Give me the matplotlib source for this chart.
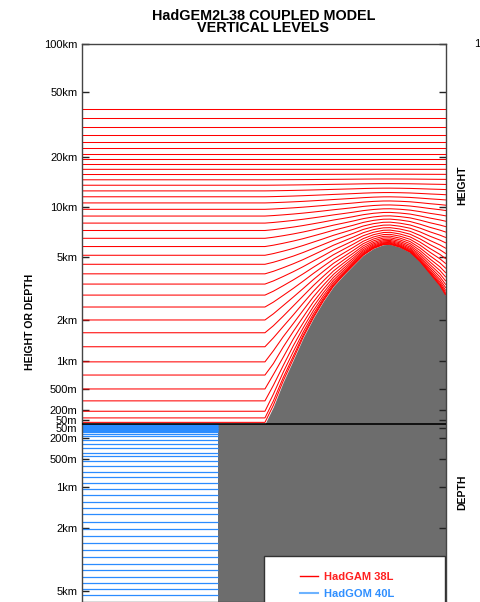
import numpy as np
import matplotlib
matplotlib.use("Agg")
import matplotlib.pyplot as plt
from matplotlib.patches import Rectangle
from matplotlib.lines import Line2D

plt.rcParams['font.family'] = ['Liberation Sans', 'DejaVu Sans']

# HadGAM 38 levels (km), flat-earth heights
ATMOS_LEVELS_KM = [0.02, 0.08, 0.18, 0.32, 0.50, 0.72, 0.98, 1.28, 1.62, 2.00,
                   2.42, 2.88, 3.38, 3.92, 4.50, 5.12, 5.78, 6.48, 7.22, 8.00,
                   8.82, 9.68, 10.58, 11.52, 12.50, 13.52, 14.58, 15.687, 16.853,
                   18.101, 19.459, 20.973, 22.71, 24.769, 27.291, 30.48, 34.622,
                   39.254]
FLAT_ABOVE_KM = 17.5   # levels are terrain following below this

# HadGOM 40 levels (km depth)
OCEAN_LEVELS_KM = [0.005, 0.015, 0.025, 0.035, 0.045, 0.055, 0.065, 0.075,
                   0.085, 0.095, 0.11, 0.135, 0.17, 0.22, 0.28, 0.34, 0.40,
                   0.46, 0.53, 0.61, 0.70, 0.80, 0.91, 1.03, 1.15, 1.29, 1.44,
                   1.60, 1.80, 2.02, 2.25, 2.50, 2.78, 3.08, 3.38, 3.72, 4.06,
                   4.45, 4.88, 5.32]

# orography (x in 0-100 across the panel)
MOUNTAIN_X = [50.4, 52.7, 55.4, 58.2, 60.9, 63.7, 66.4, 69.2, 71.9, 74.7,
              77.4, 80.2, 82.9, 84.8, 87.5, 90.3, 93.0, 95.7, 98.5, 100.0]
MOUNTAIN_KM = [0.0, 0.24, 0.60, 1.02, 1.49, 2.05, 2.62, 3.26, 3.82, 4.44,
               5.12, 5.63, 5.93, 5.96, 5.73, 5.34, 4.68, 3.94, 3.29, 2.88]
COAST_X = 37.5
DEPTH_BOTTOM_KM = 5.83
TOP_KM = 100.0

TICK_VALUES = [100, 50, 20, 10, 5, 2, 1, 0.5, 0.2, 0.05,
               -0.05, -0.2, -0.5, -1, -2, -5]
TICK_LABELS = ['100km', '50km', '20km', '10km', '5km', '2km', '1km', '500m',
               '200m', '50m', '50m', '200m', '500m', '1km', '2km', '5km']

# stretched vertical axis (linear near the surface, log aloft)
SCALE_KM = np.array([0, 0.05, 0.2, 0.5, 1, 2, 5, 10, 20, 50, 100, 1000])
SCALE_PX = np.array([0, 4, 14, 35, 63, 104, 167, 217, 267, 332, 380, 546])
SCALE_U = np.arcsinh(SCALE_KM / 0.5)


def fwd(y):
    y = np.asarray(y, dtype=float)
    return np.sign(y) * np.interp(np.arcsinh(np.abs(y) / 0.5), SCALE_U, SCALE_PX)


def inv(s):
    s = np.asarray(s, dtype=float)
    return np.sign(s) * 0.5 * np.sinh(np.interp(np.abs(s), SCALE_PX, SCALE_U))


W, H = 481, 602
GRAY = '#6d6d6d'


def px(x, y):
    return x / W, 1 - y / H


fig = plt.figure(figsize=(W / 100, H / 100), dpi=100)
ax = fig.add_axes([81.5 / W, 0, 364 / W, 1 - 44 / H])
ax.set_yscale('function', functions=(fwd, inv))
ax.set_xlim(0, 100)
ax.set_ylim(-DEPTH_BOTTOM_KM, TOP_KM)

# atmosphere
ax.fill_between(MOUNTAIN_X, 0, MOUNTAIN_KM, color=GRAY, lw=0, zorder=1)
x_line = np.concatenate([[0.0], MOUNTAIN_X])
h_line = np.concatenate([[0.0], MOUNTAIN_KM])
for z in ATMOS_LEVELS_KM:
    decay = max(0.0, 1 - z / FLAT_ABOVE_KM) ** 2
    ax.plot(x_line, z + h_line * decay, color='red', lw=0.75, zorder=2)

# ocean
ax.fill_between([COAST_X, 100], -DEPTH_BOTTOM_KM - 1, 0, color=GRAY, lw=0, zorder=1)
ax.hlines(-np.array(OCEAN_LEVELS_KM), 0, COAST_X, color='#2b8cff', lw=0.9, zorder=2)
ax.axhline(0, color='black', lw=1.2, zorder=3)

ax.set_xticks([])
ax.set_yticks(TICK_VALUES, TICK_LABELS)
ax.tick_params(axis='y', direction='in', length=5, width=1, right=True,
               labelsize=8, pad=3, labelcolor='black', color='#222222')
for sp in ax.spines.values():
    sp.set_color('#444444')
    sp.set_linewidth(1)

# titles and labels
fig.text(*px(263.5, 15.5), 'HadGEM2L38 COUPLED MODEL', ha='center', va='center',
         fontsize=10.4, fontweight='bold')
fig.text(*px(263.5, 27.5), 'VERTICAL LEVELS', ha='center', va='center',
         fontsize=10.4, fontweight='bold')
fig.text(*px(30, 322), 'HEIGHT OR DEPTH', rotation=90, ha='center', va='center',
         fontsize=7.5, fontweight='bold')
fig.text(*px(462, 185), 'HEIGHT', rotation=90, ha='center', va='center',
         fontsize=7.5, fontweight='bold')
fig.text(*px(462, 492), 'DEPTH', rotation=90, ha='center', va='center',
         fontsize=7.5, fontweight='bold')
fig.text(*px(474.5, 44), '100km', ha='left', va='center', fontsize=8,
         color='black')

# legend box
x0, y0 = px(264, 613)
ax.add_patch(Rectangle((x0, y0), 181 / W, 57 / H, transform=fig.transFigure,
                       facecolor='white', edgecolor='#333333', lw=1,
                       zorder=10, clip_on=False))
handles = [Line2D([], [], color='red', lw=1), Line2D([], [], color='#6db3ff', lw=1.5)]
leg = ax.legend(handles, ['HadGAM 38L', 'HadGOM 40L'], loc='upper left',
                bbox_to_anchor=px(300, 571.5), bbox_transform=fig.transFigure,
                frameon=False, borderpad=0, borderaxespad=0, handlelength=1.6,
                handletextpad=0.6, labelspacing=0.65,
                prop={'size': 8, 'weight': 'bold'})
leg.set_zorder(11)
for t, c in zip(leg.get_texts(), ['#ff2020', '#2f8fff']):
    t.set_color(c)

fig.savefig('out.png', dpi=100)
